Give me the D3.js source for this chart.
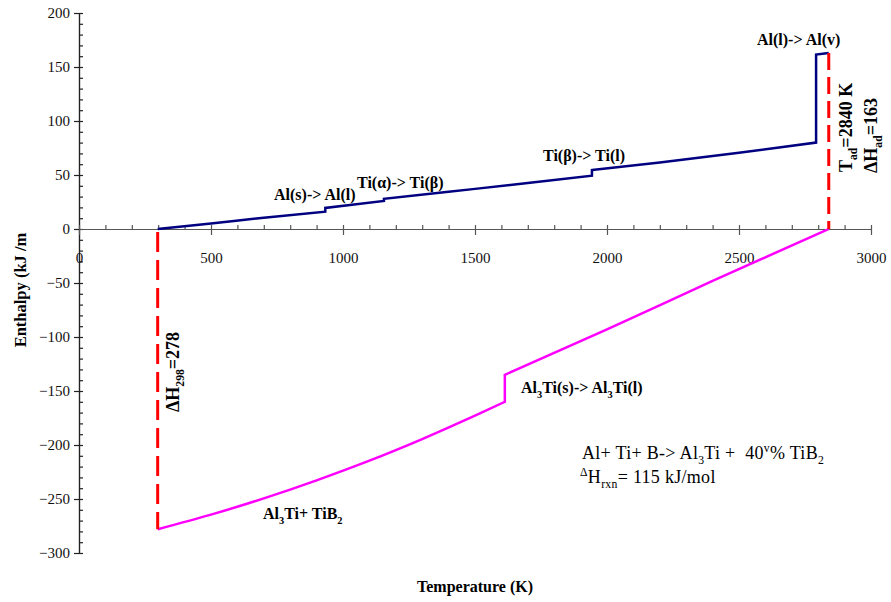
<!DOCTYPE html>
<html>
<head>
<meta charset="utf-8">
<script src="https://cdn.jsdelivr.net/npm/d3@7"></script>
<style>
  body { margin: 0; background: #fff; }
  svg { display: block; }
  .tick text { font-family: "Liberation Serif", "Times New Roman", serif; font-size: 15px; fill: #111; }
</style>
</head>
<body>
<svg id="chart" width="891" height="602"></svg>
<script>
// Enthalpy vs temperature for Al + Ti + B -> Al3Ti + 40v% TiB2
// Heating curve of the products (T in K, H in kJ/mol)
const productTemps = [298, 500, 700, 933, 933, 1155, 1155, 1400, 1700, 1943, 1943, 2200, 2500, 2792, 2792, 2840];
const productH     = [0,   5,   10.5, 16, 19.5, 26,  28,   34.5, 42.5, 49.4, 54.6, 61.5, 70.5, 80,  161.5, 163];
// Products cooled from reaction at 298 K down by the heat of reaction
const reactTemps = [298, 500, 700, 900, 1100, 1300, 1500, 1613, 1613, 2000, 2400, 2840];
const reactH     = [-278, -264.5, -249.4, -232.7, -214.5, -194.5, -172.9, -160, -135, -93, -48, 0];
// Adiabatic markers
const refTemp = 298, refH = -278;
const adTemp = 2840, adH = 163;
// Axis ticks
const xMajor = [0, 500, 1000, 1500, 2000, 2500, 3000];
const xMinor = d3.range(0, 3001, 100);
const yMajor = [-300, -250, -200, -150, -100, -50, 0, 50, 100, 150, 200];
const yMinor = d3.range(-300, 201, 10);

const svg = d3.select("#chart");
const x = d3.scaleLinear().domain([0, 3000]).range([79, 871]);
const y = d3.scaleLinear().domain([-300, 200]).range([553, 13]);

// Y axis
const yAxisG = svg.append("g").attr("transform", `translate(${x(0)},0)`);
yAxisG.call(d3.axisLeft(y).tickValues(yMajor).tickSize(5).tickSizeOuter(0).tickPadding(4));
yAxisG.append("g").call(d3.axisRight(y).tickValues(yMinor).tickSize(4).tickSizeOuter(0).tickFormat(""));
yAxisG.selectAll("path, line").attr("stroke", "#222").attr("stroke-width", 1.2);

// X axis (through H = 0)
const xAxisG = svg.append("g").attr("transform", `translate(0,${y(0)})`);
xAxisG.call(d3.axisBottom(x).tickValues(xMajor).tickSize(6).tickSizeOuter(0).tickPadding(17).tickFormat(d3.format("d")));
xAxisG.append("g").call(d3.axisTop(x).tickValues(xMinor).tickSize(4).tickSizeOuter(0).tickFormat(""));
xAxisG.selectAll("path, line").attr("stroke", "#555").attr("stroke-width", 1.2);

// Split a curve into pieces at the isothermal jumps (repeated temperature),
// smooth each piece and join them with the vertical step.
function curvePath(temps, hs) {
  const pts = temps.map((t, i) => [x(t), y(hs[i])]);
  const pieces = [[pts[0]]];
  for (let i = 1; i < pts.length; i++) {
    if (temps[i] === temps[i - 1]) pieces.push([pts[i]]);
    else pieces[pieces.length - 1].push(pts[i]);
  }
  const smooth = d3.line().curve(d3.curveMonotoneX);
  return pieces.map((p, i) => {
    const d = p.length > 1 ? smooth(p) : `M${p[0][0]},${p[0][1]}`;
    return i === 0 ? d : d.replace(/^M/, "L");
  }).join("");
}

svg.append("path")
  .attr("d", curvePath(reactTemps, reactH))
  .attr("fill", "none").attr("stroke", "#ff00ff").attr("stroke-width", 2.5);
svg.append("path")
  .attr("d", curvePath(productTemps, productH))
  .attr("fill", "none").attr("stroke", "#000080").attr("stroke-width", 2.5);

// Dashed markers
svg.append("line")
  .attr("x1", x(refTemp)).attr("x2", x(refTemp)).attr("y1", y(0) + 3).attr("y2", y(refH))
  .attr("stroke", "#ff0000").attr("stroke-width", 3).attr("stroke-dasharray", "20,8");
svg.append("line")
  .attr("x1", x(adTemp)).attr("x2", x(adTemp)).attr("y1", y(adH)).attr("y2", y(0))
  .attr("stroke", "#ff0000").attr("stroke-width", 3).attr("stroke-dasharray", "17,7");

// Text with sub/superscripts
function rich(g, parts, size) {
  const t = g.append("text");
  let shift = 0;
  parts.forEach(p => {
    const target = p.sub ? size * 0.3 : p.sup ? -size * 0.4 : 0;
    t.append("tspan")
      .attr("dy", target - shift)
      .attr("font-size", p.sub || p.sup ? size * 0.65 : size)
      .text(p.t);
    shift = target;
  });
  return t;
}
function label(px, py, parts, opts = {}) {
  const size = opts.size || 16;
  const g = svg.append("g").attr("transform", `translate(${px},${py})` + (opts.rotate ? ` rotate(${opts.rotate})` : ""));
  const t = rich(g, parts, size);
  t.attr("font-family", "'Liberation Serif', 'Times New Roman', serif")
   .attr("font-weight", opts.bold === false ? "normal" : "bold")
   .attr("font-size", size)
   .attr("fill", "#000")
   .attr("letter-spacing", opts.ls || 0)
   .style("white-space", "pre");
  return t;
}

label(757, 45, [{t: "Al(l)-> Al(v)"}]);
label(274, 200, [{t: "Al(s)-> Al(l)"}]);
label(357, 188, [{t: "Ti(α)-> Ti(β)"}]);
label(543, 161, [{t: "Ti(β)-> Ti(l)"}]);
label(521, 393, [{t: "Al"}, {t: "3", sub: true}, {t: "Ti(s)-> Al"}, {t: "3", sub: true}, {t: "Ti(l)"}]);
label(263, 519, [{t: "Al"}, {t: "3", sub: true}, {t: "Ti+ TiB"}, {t: "2", sub: true}]);

label(852, 172, [{t: "T"}, {t: "ad", sub: true}, {t: "=2840 K"}], {rotate: -90, size: 18});
label(877, 173, [{t: "ΔH"}, {t: "ad", sub: true}, {t: "=163"}], {rotate: -90, size: 18});
label(179, 412, [{t: "ΔH"}, {t: "298", sub: true}, {t: "=278"}], {rotate: -90, size: 18});

label(582, 459, [{t: "Al+ Ti+ B-> Al"}, {t: "3", sub: true}, {t: "Ti +  40"}, {t: "v", sup: true}, {t: "% TiB"}, {t: "2", sub: true}], {bold: false, size: 18, ls: 0.3});
label(580, 483, [{t: "Δ", sup: true}, {t: "H"}, {t: "rxn", sub: true}, {t: "= 115 kJ/mol"}], {bold: false, size: 18, ls: 0.3});

// Axis titles
svg.append("text")
  .attr("x", 475).attr("y", 592).attr("text-anchor", "middle")
  .attr("font-family", "'Liberation Serif', 'Times New Roman', serif")
  .attr("font-weight", "bold").attr("font-size", 16).text("Temperature (K)");
svg.append("text")
  .attr("transform", "translate(26,290) rotate(-90)").attr("text-anchor", "middle")
  .attr("font-family", "'Liberation Serif', 'Times New Roman', serif")
  .attr("font-weight", "bold").attr("font-size", 16.5).text("Enthalpy (kJ /m");
</script>
</body>
</html>
